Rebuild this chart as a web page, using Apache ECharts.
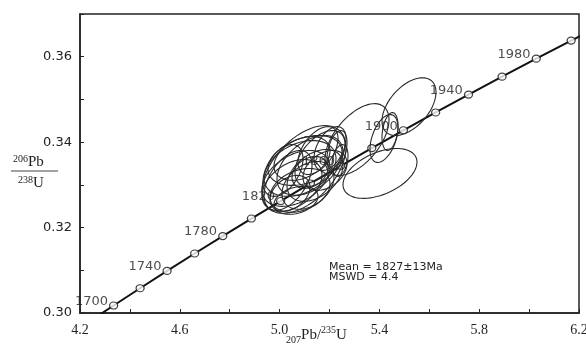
<!DOCTYPE html>
<html>
<head>
<meta charset="utf-8">
<script src="https://cdn.jsdelivr.net/npm/echarts@6/dist/echarts.min.js"></script>
<style>
  html, body { margin: 0; padding: 0; background: #fff; }
  #chart { width: 586px; height: 345px; }
</style>
</head>
<body>
<div id="chart"></div>
<script>
  // concordia marks, every 20 Ma
  let ages = [1700, 1720, 1740, 1760, 1780, 1800, 1820, 1840, 1860, 1880, 1900, 1920, 1940, 1960, 1980, 2000]
  let concX = [4.3348, 4.4409, 4.5491, 4.6595, 4.7721, 4.8869, 5.0040, 5.1234, 5.2452, 5.3695, 5.4962, 5.6254, 5.7572, 5.8916, 6.0287, 6.1685]
  let concY = [0.30175, 0.30580, 0.30986, 0.31393, 0.31801, 0.32211, 0.32621, 0.33033, 0.33447, 0.33861, 0.34277, 0.34695, 0.35113, 0.35533, 0.35954, 0.36377]
  // curve runs past the first / last mark to the frame
  let curveX = [4.2825].concat(concX, [6.2039])
  let curveY = [0.29974].concat(concY, [0.36482])

  // error ellipses: centre, half width, half height, correlation
  let ellCx = [5.0978, 5.1018, 5.0818, 5.0657, 5.1218, 5.0497, 5.0818, 5.1419, 5.0337, 5.1619, 5.0898, 5.1138, 5.0136, 5.1820, 5.0657, 5.2020, 5.2301, 5.2421, 5.1218, 5.0417, 5.1539, 5.3102, 5.4425, 5.4184, 5.5186, 5.4024]
  let ellCy = [0.33361, 0.33571, 0.33384, 0.33151, 0.33454, 0.32988, 0.32871, 0.33221, 0.33104, 0.33618, 0.33618, 0.32988, 0.33338, 0.33338, 0.32637, 0.33851, 0.33804, 0.33571, 0.33291, 0.32801, 0.33804, 0.34061, 0.34248, 0.34085, 0.34831, 0.33268]
  let ellSx = [0.1683, 0.1483, 0.1443, 0.1363, 0.1323, 0.1202, 0.1202, 0.1122, 0.0962, 0.1002, 0.1122, 0.1042, 0.0802, 0.0882, 0.0882, 0.0641, 0.0401, 0.0321, 0.0721, 0.0802, 0.0802, 0.1283, 0.0321, 0.0561, 0.1082, 0.1483]
  let ellSy = [0.01027, 0.00584, 0.00654, 0.00654, 0.00700, 0.00607, 0.00513, 0.00607, 0.00700, 0.00654, 0.00513, 0.00560, 0.00607, 0.00467, 0.00327, 0.00513, 0.00467, 0.00373, 0.00373, 0.00420, 0.00560, 0.00840, 0.00443, 0.00560, 0.00677, 0.00584]
  let ellRho = [0.50, 0.35, 0.35, 0.40, 0.45, 0.40, 0.30, 0.40, 0.50, 0.50, 0.35, 0.35, 0.45, 0.35, 0.30, 0.45, 0.40, 0.30, 0.30, 0.35, 0.50, 0.55, 0.30, 0.45, 0.50, 0.45]

  let xTickLabels = ['4.2', '4.6', '5.0', '5.4', '5.8', '6.2']
  let yTickLabels = ['0.30', '0.32', '0.34', '0.36']

  let curveData = curveX.map(function (x, i) { return [x, curveY[i]] })
  let markData = concX.map(function (x, i) {
    let showLabel = (ages[i] - 1700) % 40 === 0
    return { value: [x, concY[i], ages[i]], label: { show: showLabel } }
  })
  let ellData = ellCx.map(function (x, i) { return [x, ellCy[i], ellSx[i], ellSy[i], ellRho[i]] })

  function renderEllipse(params, api) {
    let cx = api.value(0), cy = api.value(1), sx = api.value(2), sy = api.value(3), r = api.value(4)
    let k = Math.sqrt(1 - r * r)
    let pts = []
    for (let j = 0; j <= 72; j++) {
      let t = j / 72 * Math.PI * 2
      let p = api.coord([cx + sx * Math.cos(t), cy + sy * (r * Math.cos(t) + k * Math.sin(t))])
      pts.push(p)
    }
    return {
      type: 'polyline',
      shape: { points: pts },
      style: { fill: null, stroke: '#2a2a2a', lineWidth: 1.1 }
    }
  }

  let myChart = echarts.init(document.getElementById('chart'))
  let option = {
    animation: false,
    backgroundColor: '#fff',
    grid: {
      left: 80, top: 14, right: 7, bottom: 32,
      outerBoundsMode: 'none',
      show: true, borderColor: '#222', borderWidth: 1.5
    },
    xAxis: {
      type: 'value', min: 4.2, max: 6.2, interval: 0.2,
      splitLine: { show: false },
      axisLine: { lineStyle: { color: '#222', width: 1.5 } },
      axisTick: { inside: true, length: 4, lineStyle: { color: '#222' } },
      axisLabel: {
        margin: 10, color: '#222', fontFamily: 'Liberation Serif', fontSize: 14,
        formatter: function (v) {
          let s = v.toFixed(1)
          return xTickLabels.indexOf(s) >= 0 ? s : ''
        }
      },
      name: '{sub|207}{b|Pb/}{sup|235}{b|U}',
      nameLocation: 'middle', nameGap: 12,
      nameMoveOverlap: false,
      nameTextStyle: {
        padding: [0, 26, 0, 0],
        rich: {
          b: { fontFamily: 'Liberation Serif', fontSize: 15, color: '#222', lineHeight: 20 },
          sub: { fontFamily: 'Liberation Serif', fontSize: 10, color: '#222', lineHeight: 10, verticalAlign: 'bottom' },
          sup: { fontFamily: 'Liberation Serif', fontSize: 10, color: '#222', lineHeight: 10, verticalAlign: 'top' }
        }
      }
    },
    yAxis: {
      type: 'value', min: 0.30, max: 0.37, interval: 0.01,
      splitLine: { show: false },
      axisLine: { show: true, lineStyle: { color: '#222', width: 1.5 } },
      axisTick: { show: true, inside: true, length: 4, lineStyle: { color: '#222' } },
      axisLabel: {
        margin: 8, color: '#222', fontFamily: 'DejaVu Sans', fontSize: 13,
        formatter: function (v) {
          let s = v.toFixed(2)
          return yTickLabels.indexOf(s) >= 0 ? s : ''
        }
      }
    },
    graphic: [
      {
        type: 'text', left: 13, top: 154,
        style: {
          text: '{sup|206}{b|Pb}',
          rich: {
            b: { fontFamily: 'Liberation Serif', fontSize: 15, fill: '#222', lineHeight: 16 },
            sup: { fontFamily: 'Liberation Serif', fontSize: 10, fill: '#222', lineHeight: 10, verticalAlign: 'top' }
          }
        }
      },
      {
        type: 'line', shape: { x1: 11, y1: 171, x2: 58, y2: 171 },
        style: { stroke: '#444', lineWidth: 1 }
      },
      {
        type: 'text', left: 18, top: 175,
        style: {
          text: '{sup|238}{b|U}',
          rich: {
            b: { fontFamily: 'Liberation Serif', fontSize: 15, fill: '#222', lineHeight: 16 },
            sup: { fontFamily: 'Liberation Serif', fontSize: 10, fill: '#222', lineHeight: 10, verticalAlign: 'top' }
          }
        }
      },
      {
        type: 'text', left: 329, top: 262,
        style: {
          text: 'Mean = 1827±13Ma\nMSWD = 4.4',
          fontFamily: 'DejaVu Sans', fontSize: 11, lineHeight: 10, fill: '#222'
        }
      }
    ],
    series: [
      {
        type: 'line',
        data: curveData,
        showSymbol: false,
        clip: true,
        lineStyle: { color: '#111', width: 2 },
        z: 2
      },
      {
        type: 'scatter',
        data: markData,
        symbol: 'circle',
        symbolSize: [8, 7],
        itemStyle: { color: '#fff', borderColor: '#111', borderWidth: 1.2 },
        label: {
          position: 'left', distance: 1, offset: [0, -4],
          fontFamily: 'DejaVu Sans', fontSize: 13, color: '#222',
          formatter: function (p) { return p.value[2] }
        },
        z: 3
      },
      {
        type: 'custom',
        data: ellData,
        renderItem: renderEllipse,
        encode: { x: 0, y: 1 },
        clip: true,
        silent: true,
        z: 4
      }
    ]
  }
  myChart.setOption(option)
</script>
</body>
</html>
